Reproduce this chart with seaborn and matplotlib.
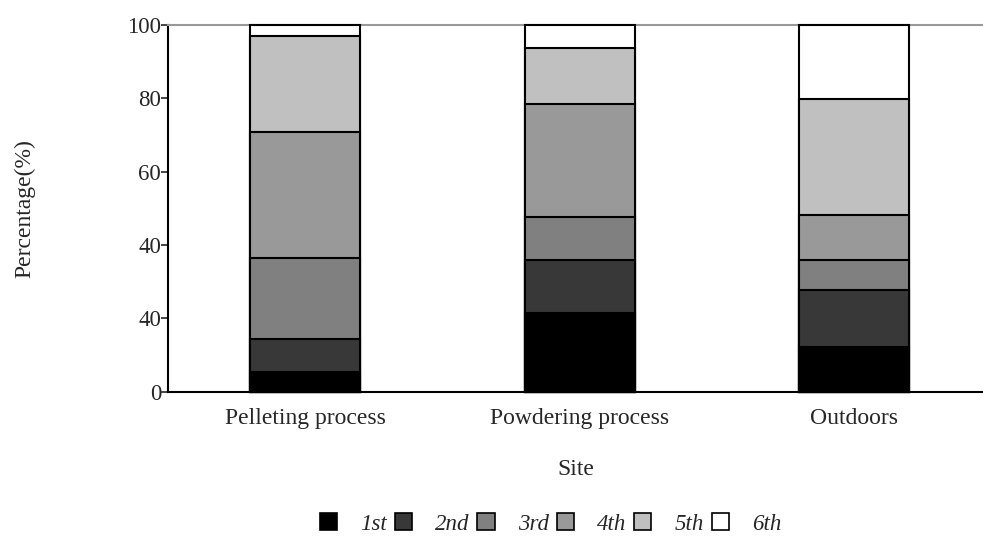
import numpy as np
import pandas as pd
import seaborn as sns
import matplotlib.pyplot as plt
from matplotlib.patches import Patch

# Data (percentage of each stage per site)
sites = ["Pelleting process", "Powdering process", "Outdoors"]
stages = ["1st", "2nd", "3rd", "4th", "5th", "6th"]
stage_1st = [5.3, 21.6, 12.3]
stage_2nd = [9.1, 14.4, 15.5]
stage_3rd = [22.2, 11.6, 8.2]
stage_4th = [34.2, 30.9, 12.2]
stage_5th = [26.2, 15.1, 31.6]
stage_6th = [3.0, 6.4, 20.2]
colors = ["#000000", "#383838", "#808080", "#999999", "#c0c0c0", "#ffffff"]
ytick_vals = [0, 20, 40, 60, 80, 100]
ytick_labels = ["0", "40", "40", "60", "80", "100"]

df = pd.DataFrame([stage_1st, stage_2nd, stage_3rd, stage_4th, stage_5th, stage_6th],
                  index=stages, columns=sites)
cum = df.cumsum()

sns.set_style("white")
plt.rcParams["font.family"] = ["Liberation Serif", "DejaVu Serif"]

fig = plt.figure(figsize=(9.83, 5.39), dpi=100)
ax = fig.add_axes([0.171, 0.273, 0.829, 0.681])

# draw cumulative bars from the top stage down so lower stages overlay
for stage, col in reversed(list(zip(stages, colors))):
    sns.barplot(x=sites, y=cum.loc[stage].values, color=col, edgecolor="black",
                linewidth=1.5, width=0.4, saturation=1, ax=ax)
for p in ax.patches:
    p.set_clip_on(False)
    p.set_zorder(3)

ax.set_xlim(-0.5, 2.47)
ax.set_ylim(0, 100)
ax.set_yticks(ytick_vals)
ax.set_yticklabels(ytick_labels)
ax.tick_params(axis="y", left=True, length=5, width=1.2, labelsize=16.5, pad=0)
ax.tick_params(axis="x", bottom=False, labelsize=17, pad=8)

for s in ["left", "bottom"]:
    ax.spines[s].set_color("black")
    ax.spines[s].set_linewidth(1.5)
ax.spines["right"].set_visible(False)
ax.spines["top"].set_color("#999999")
ax.spines["top"].set_linewidth(1.5)

ax.set_xlabel("Site", fontsize=17, labelpad=22)
ax.set_ylabel("Percentage(%)", fontsize=17, labelpad=66)

handles = [Patch(facecolor=c, edgecolor="black" if i else c, linewidth=1.2)
           for i, c in enumerate(colors)]
leg = fig.legend(handles, stages, loc="center", bbox_to_anchor=(0.56, 0.028),
                 ncol=6, frameon=False, handlelength=0.75, handleheight=0.75,
                 handletextpad=1.0, columnspacing=0.35,
                 prop={"family": "Liberation Serif", "style": "italic", "size": 16.5})

fig.savefig("out.png", dpi=100)
